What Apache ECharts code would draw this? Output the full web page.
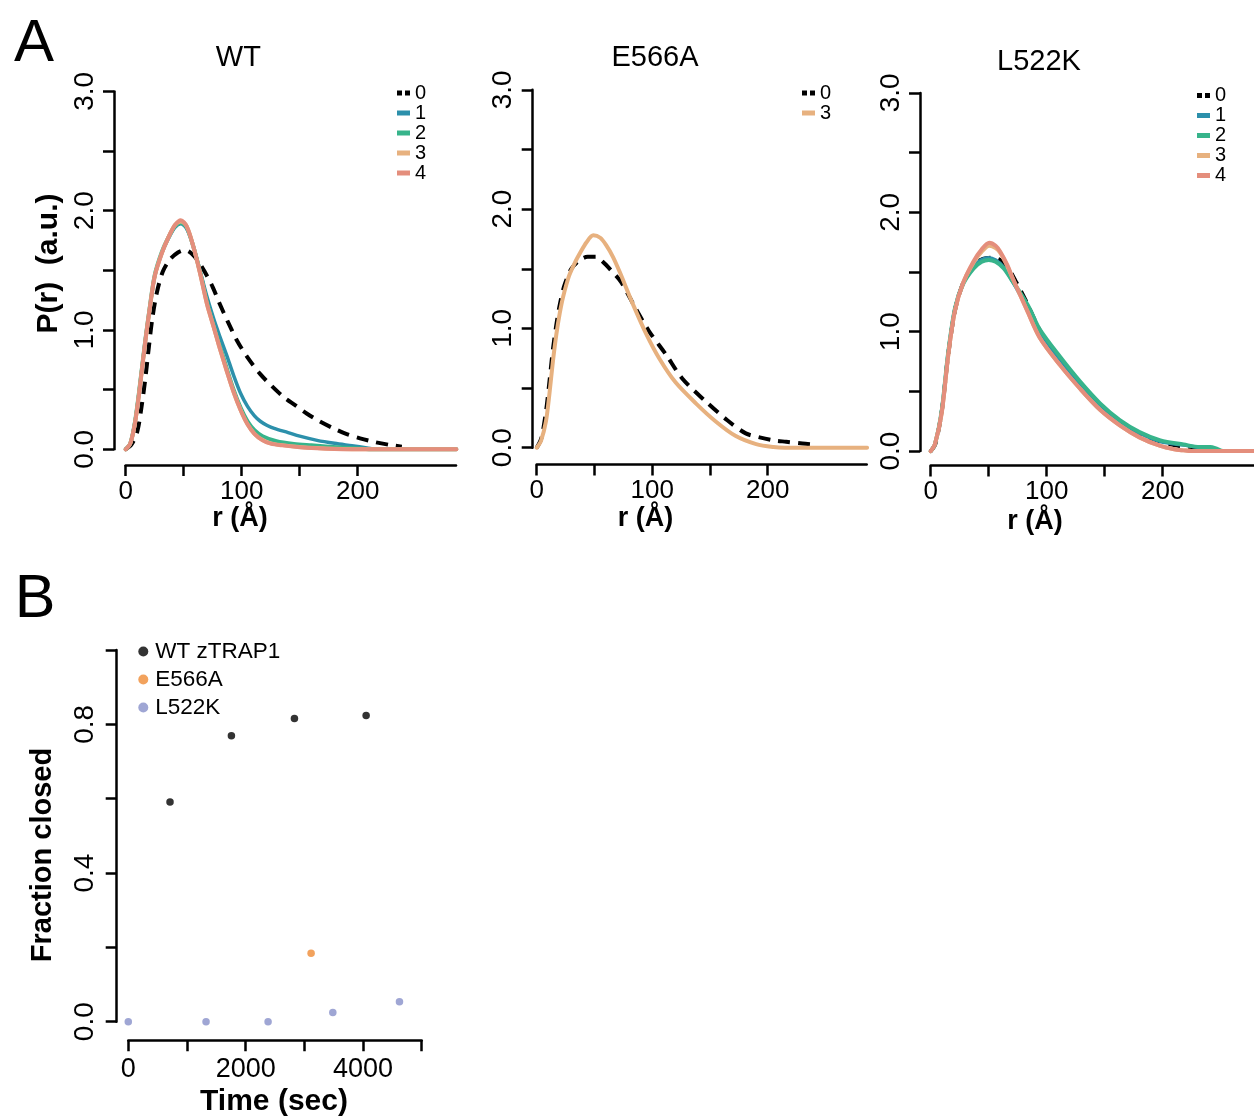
<!DOCTYPE html>
<html><head><meta charset="utf-8">
<script src="https://cdn.jsdelivr.net/npm/echarts@6/dist/echarts.min.js"></script>
<style>html,body{margin:0;padding:0;background:#fff}#c{width:1254px;height:1117px}</style>
</head><body><div id="c"></div>
<script>
// ---------- Data ----------
const panelTitles = ['WT', 'E566A', 'L522K'];
const stateNames = ['0', '1', '2', '3', '4'];
const xTitleA = 'r (Å)';
const yTitleA = 'P(r)  (a.u.)';
const xTitleB = 'Time (sec)';
const yTitleB = 'Fraction closed';

// Panel A, WT : [r (Å), P(r)]
const WT_0 = [[0,0],[5,0.04],[10,0.15],[14,0.38],[17,0.6],[20,0.86],[23,1.1],[27,1.32],[32,1.49],[38,1.59],[45,1.65],[51,1.67],[57,1.64],[63,1.57],[68,1.49],[75,1.36],[81,1.22],[88,1.07],[96,0.91],[105,0.77],[116,0.63],[126,0.53],[136,0.44],[146,0.37],[156,0.3],[167,0.235],[179,0.176],[190,0.13],[202,0.092],[215,0.06],[228,0.036],[238,0.022]];
const WT_1 = [[0,0],[4,0.05],[8,0.23],[12,0.52],[16.7,0.9],[21,1.2],[25,1.45],[31,1.64],[37,1.77],[42.5,1.86],[47.5,1.89],[52.5,1.85],[58,1.71],[64,1.5],[70,1.28],[76,1.09],[81,0.95],[87,0.79],[93,0.62],[99,0.47],[105,0.36],[111,0.28],[116,0.235],[122,0.2],[128,0.175],[140,0.14],[150,0.11],[165,0.075],[180,0.05],[195,0.03],[208,0.012],[218,0],[285,0]];
const WT_2 = [[0,0],[4,0.05],[8,0.23],[12,0.52],[16.7,0.9],[21,1.21],[25,1.46],[31,1.65],[37,1.78],[42.5,1.87],[47.5,1.9],[52.5,1.86],[58,1.71],[64,1.49],[70,1.24],[76,1.03],[81,0.87],[87,0.68],[93,0.5],[99,0.35],[105,0.235],[111,0.16],[118,0.11],[130,0.068],[145,0.045],[160,0.033],[175,0.022],[190,0.012],[205,0.004],[215,0],[285,0]];
const WT_3 = [[0,0],[4,0.05],[8,0.22],[12,0.51],[16.7,0.89],[21,1.2],[25,1.45],[31,1.64],[37,1.78],[42.5,1.88],[47.5,1.91],[52.5,1.87],[58,1.71],[64,1.48],[70,1.22],[76,1.02],[81,0.85],[87,0.66],[93,0.48],[99,0.33],[105,0.21],[111,0.13],[118,0.078],[125,0.05],[135,0.035],[150,0.02],[165,0.01],[180,0.004],[195,0.001],[205,0],[285,0]];
const WT_4 = [[0,0],[4,0.05],[8,0.22],[12,0.5],[16.7,0.89],[21,1.2],[25,1.45],[31,1.64],[37,1.78],[42.5,1.88],[47.5,1.92],[52.5,1.87],[58,1.71],[64,1.48],[70,1.22],[76,1.02],[81,0.85],[87,0.66],[93,0.48],[99,0.33],[105,0.21],[111,0.13],[118,0.075],[125,0.048],[135,0.033],[150,0.018],[165,0.009],[180,0.003],[195,0.001],[205,0],[285,0]];

// Panel A, E566A
const E566A_0 = [[0,0],[4,0.08],[8,0.3],[11,0.55],[14,0.82],[17,1.03],[20,1.2],[24,1.36],[30,1.5],[37,1.57],[44,1.6],[51,1.6],[57,1.56],[65,1.48],[73,1.39],[85,1.18],[97,0.98],[112,0.78],[126,0.58],[145,0.4],[165,0.23],[181,0.12],[193,0.087],[206,0.06],[216,0.05],[230,0.035],[242,0.026]];
const E566A_3 = [[0,0],[3.8,0.06],[8,0.22],[11,0.45],[14,0.72],[17,0.95],[20,1.13],[23,1.27],[28,1.44],[33,1.55],[38,1.64],[43,1.72],[49,1.78],[55,1.76],[60,1.7],[66,1.6],[72,1.47],[83,1.21],[95,0.95],[106,0.75],[120,0.55],[138,0.37],[155,0.22],[172,0.1],[190,0.03],[205,0.005],[215,0],[286,0]];

// Panel A, L522K
const L522K_0 = [[0,0],[4,0.06],[9.5,0.33],[15,0.8],[21,1.18],[28,1.41],[37,1.56],[45,1.61],[53,1.62],[60,1.6],[67,1.53],[74,1.41],[82,1.26],[92,1.05],[103,0.86],[115,0.7],[128,0.55],[142,0.4],[158,0.27],[175,0.17],[192,0.1],[210,0.05],[225,0.025],[240,0.012]];
const L522K_1 = [[0,0],[3.7,0.06],[9.5,0.34],[15,0.82],[21,1.2],[28,1.41],[37,1.55],[44,1.605],[50,1.62],[56,1.6],[63,1.54],[70,1.43],[77,1.31],[85,1.17],[94,0.99],[111.5,0.76],[129,0.56],[146,0.38],[163,0.245],[180,0.15],[198,0.08],[218,0.05],[235,0.025],[245,0.02],[250,0],[279,0]];
const L522K_2 = [[0,0],[3.7,0.06],[9.5,0.34],[15,0.82],[21,1.2],[28,1.4],[37,1.53],[44,1.585],[50,1.6],[56,1.585],[63,1.53],[70,1.43],[77,1.33],[85,1.2],[94,1.02],[111.5,0.79],[129,0.58],[146,0.4],[163,0.26],[180,0.16],[198,0.09],[218,0.055],[232,0.034],[241,0.034],[246,0.022],[252,0],[279,0]];
const L522K_3 = [[0,0],[3.7,0.06],[9.5,0.32],[15.2,0.81],[21,1.18],[28,1.41],[37,1.58],[44,1.67],[50.5,1.72],[56,1.7],[60,1.66],[66,1.55],[71,1.44],[77,1.31],[83,1.18],[94,0.95],[111.5,0.72],[129,0.52],[146,0.346],[163,0.216],[180,0.115],[198,0.043],[210,0.015],[218,0.006],[225,0],[279,0]];
const L522K_4 = [[0,0],[3.7,0.06],[9.5,0.32],[15.2,0.81],[21,1.18],[28,1.41],[37,1.59],[44,1.69],[50.5,1.745],[56,1.72],[60,1.67],[66,1.56],[71,1.44],[77,1.31],[83,1.18],[94,0.95],[111.5,0.72],[129,0.52],[146,0.346],[163,0.216],[180,0.115],[198,0.043],[210,0.015],[218,0.006],[225,0],[279,0]];

// Panel B : time (sec) and fraction closed
const bNames = ['WT zTRAP1', 'E566A', 'L522K'];
const timeWT = [711, 1757, 2831, 4053];
const fracWT = [0.591, 0.769, 0.816, 0.824];
const timeE566A = [3115];
const fracE566A = [0.184];
const timeL522K = [0, 1325, 2382, 3485, 4621];
const fracL522K = [0, 0, 0, 0.025, 0.054];

// Ticks and tick labels
const xTicksA = [0, 50, 100, 150, 200];
const xLabelsA = [0, 100, 200];
const yTicksA = [0, 0.5, 1, 1.5, 2, 2.5, 3];
const yLabelsA = [0, 1, 2, 3];
const xTicksB = [0, 1000, 2000, 3000, 4000, 5000];
const xLabelsB = [0, 2000, 4000];
const yTicksB = [0, 0.2, 0.4, 0.6, 0.8, 1.0];
const yLabelsB = [0, 0.4, 0.8];

// ---------- Styling ----------
const FONT = '"Liberation Sans", Arial, Helvetica, sans-serif';
const COL = {'0': '#000000', '1': '#2c90ab', '2': '#37b48b', '3': '#e7b17f', '4': '#e48e7c'};
const COLB = {'WT zTRAP1': '#000000', 'E566A': '#ef8b35', 'L522K': '#8790c9'};
const AX = {color: '#000', width: 2.5};

const gridsA = [
  {left: 125.7, top: 91.4, width: 330.3, height: 357.9, xmax: 284.7, yOff: 11.7, xOff: 15.7},
  {left: 536.7, top: 89.8, width: 330.0, height: 357.9, xmax: 285.7, yOff: 4.0, xOff: 16.8},
  {left: 930.7, top: 92.9, width: 323.3, height: 358.2, xmax: 278.7, yOff: 10.7, xOff: 14.5}
];
const gridB = {left: 128.3, top: 650, width: 293.4, height: 371.7, yOff: 11.6, xOff: 18.5};

const grid = [], xAxis = [], yAxis = [], series = [];
gridsA.forEach((g, i) => {
  grid.push({left: g.left, top: g.top, width: g.width, height: g.height, containLabel: false});
  xAxis.push({
    type: 'value', gridIndex: i, min: 0, max: g.xmax, offset: g.xOff,
    axisLine: {show: true, onZero: false, lineStyle: AX},
    axisTick: {show: true, length: 11, customValues: xTicksA, lineStyle: AX},
    axisLabel: {customValues: xLabelsA, margin: 13.5, fontSize: 26, color: '#000', fontFamily: FONT,
                formatter: v => String(v)},
    splitLine: {show: false}
  });
  yAxis.push({
    type: 'value', gridIndex: i, min: 0, max: 3, offset: g.yOff,
    axisLine: {show: true, onZero: false, lineStyle: AX},
    axisTick: {show: true, length: 11, customValues: yTicksA, lineStyle: AX},
    axisLabel: {customValues: yLabelsA, rotate: 90, margin: 15, fontSize: 28, color: '#000', fontFamily: FONT,
                formatter: v => Number(v).toFixed(1)},
    splitLine: {show: false}
  });
});
grid.push({left: gridB.left, top: gridB.top, width: gridB.width, height: gridB.height});
xAxis.push({
  type: 'value', gridIndex: 3, min: 0, max: 5000, offset: gridB.xOff,
  axisLine: {show: true, onZero: false, lineStyle: AX},
  axisTick: {show: true, length: 11, customValues: xTicksB, lineStyle: AX},
  axisLabel: {customValues: xLabelsB, margin: 16, fontSize: 27, color: '#000', fontFamily: FONT,
              formatter: v => String(v)},
  splitLine: {show: false}
});
yAxis.push({
  type: 'value', gridIndex: 3, min: 0, max: 1, offset: gridB.yOff,
  axisLine: {show: true, onZero: false, lineStyle: AX},
  axisTick: {show: true, length: 11, customValues: yTicksB, lineStyle: AX},
  axisLabel: {customValues: yLabelsB, rotate: 90, margin: 17, fontSize: 28, color: '#000', fontFamily: FONT,
              formatter: v => Number(v).toFixed(1)},
  splitLine: {show: false}
});

function lineS(name, data, gi) {
  const dashed = name === '0';
  return {
    type: 'line', name, data, xAxisIndex: gi, yAxisIndex: gi,
    symbol: 'none', showSymbol: false, smooth: 0.3, clip: false,
    lineStyle: {color: COL[name], width: name === '1' ? 3.5 : 4, type: dashed ? [12, 8] : 'solid', cap: dashed ? 'butt' : 'round', join: 'round'},
    itemStyle: {color: COL[name]}, z: 2 + Number(name), animation: false
  };
}
[[WT_0,'0'],[WT_1,'1'],[WT_2,'2'],[WT_3,'3'],[WT_4,'4']].forEach(([d,n]) => series.push(lineS(n, d, 0)));
[[E566A_0,'0'],[E566A_3,'3']].forEach(([d,n]) => series.push(lineS(n, d, 1)));
[[L522K_0,'0'],[L522K_1,'1'],[L522K_2,'2'],[L522K_3,'3'],[L522K_4,'4']].forEach(([d,n]) => series.push(lineS(n, d, 2)));

const zip = (a, b) => a.map((v, i) => [v, b[i]]);
[[timeWT, fracWT, 'WT zTRAP1'], [timeE566A, fracE566A, 'E566A'], [timeL522K, fracL522K, 'L522K']].forEach(([t, f, n]) => {
  series.push({type: 'scatter', name: n, data: zip(t, f), xAxisIndex: 3, yAxisIndex: 3,
    symbol: 'circle', symbolSize: 7.5, itemStyle: {color: COLB[n]}, clip: false});
});

const dashIcon = 'path://M0,0h5v5h-5z M8,0h5v5h-5z';
const barIcon = 'path://M0,0h13v5h-13z';
function legendA(left, top, names) {
  return {
    left, top, orient: 'vertical', padding: 0, itemGap: 0, itemWidth: 13, itemHeight: 5,
    selectedMode: false, itemStyle: {borderWidth: 0},
    textStyle: {fontFamily: FONT, fontSize: 20, lineHeight: 19.5, color: '#000', padding: [0, 0, 0, 0]},
    data: names.map(n => ({name: n, icon: n === '0' ? dashIcon : barIcon, itemStyle: {color: COL[n], borderWidth: 0}}))
  };
}
const legend = [
  legendA(397, 83, stateNames),
  legendA(802, 83, ['0', '3']),
  legendA(1197, 85.5, stateNames),
  {
    left: 138.3, top: 640, orient: 'vertical', padding: 0, itemGap: 5, itemWidth: 10, itemHeight: 10,
    selectedMode: false, itemStyle: {borderWidth: 0},
    textStyle: {fontFamily: FONT, fontSize: 22.5, lineHeight: 22, color: '#000', padding: [0, 0, 0, 2]},
    data: bNames.map(n => ({name: n, icon: 'circle', itemStyle: {color: COLB[n]}}))
  }
];

function txt(text, x, y, size, bold, rot) {
  return {type: 'text', x, y, rotation: rot ? Math.PI / 2 : 0,
    style: {text, font: (bold ? 'bold ' : '') + size + 'px ' + FONT, fill: '#000', textAlign: 'center', textVerticalAlign: 'middle'}};
}
const titlePos = [[238.3, 57.5], [655, 58], [1039, 61.5]];
const graphic = titlePos.map((p, i) => txt(panelTitles[i], p[0], p[1], 29, false, false));
graphic.push(txt('A', 34, 44, 60, false, false));
graphic.push(txt('B', 35, 600, 61, false, false));
[[240, 519], [645.5, 519], [1035, 522]].forEach(p => graphic.push(txt(xTitleA, p[0], p[1], 27, true, false)));
graphic.push(txt(yTitleA, 49, 263.5, 30, true, true));
graphic.push(txt(xTitleB, 274, 1102, 30, true, false));
graphic.push(txt(yTitleB, 43, 855, 29, true, true));

const chart = echarts.init(document.getElementById('c'), null, {renderer: 'canvas', width: 1254, height: 1117});
chart.setOption({
  backgroundColor: '#ffffff', animation: false,
  textStyle: {fontFamily: FONT},
  grid, xAxis, yAxis, series, legend, graphic
});
</script></body></html>
